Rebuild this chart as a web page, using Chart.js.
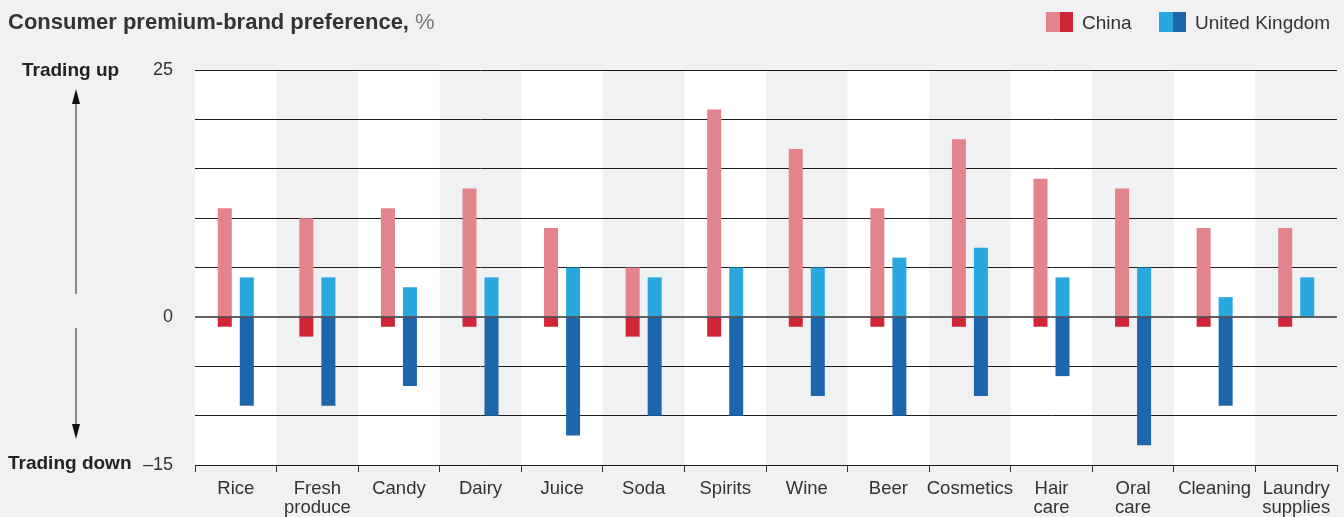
<!DOCTYPE html>
<html>
<head>
<meta charset="utf-8">
<script src="https://cdn.jsdelivr.net/npm/chart.js@4/dist/chart.umd.min.js"></script>
<style>
  html, body { margin: 0; padding: 0; background: #f0f1f3; }
  #wrap { position: relative; width: 1344px; height: 517px; }
</style>
</head>
<body>
<div id="wrap"><canvas id="c" width="1344" height="517"></canvas></div>
<script>
const categories = ['Rice', ['Fresh', 'produce'], 'Candy', 'Dairy', 'Juice', 'Soda', 'Spirits', 'Wine', 'Beer', 'Cosmetics', ['Hair', 'care'], ['Oral', 'care'], 'Cleaning', ['Laundry', 'supplies']];
const chinaUp   = [11, 10, 11, 13, 9, 5, 21, 17, 11, 18, 14, 13, 9, 9];
const chinaDown = [-1, -2, -1, -1, -1, -2, -2, -1, -1, -1, -1, -1, -1, -1];
const ukUp      = [4, 4, 3, 4, 5, 4, 5, 5, 6, 7, 4, 5, 2, 4];
const ukDown    = [-9, -9, -7, -10, -12, -10, -10, -8, -10, -8, -6, -13, -9, 0];
const yTickLabels = { 25: '25', 0: '0', '-15': '–15' };
const titleBold = 'Consumer premium-brand preference,';
const titleUnit = '%';
const seriesNames = ['China', 'United Kingdom'];
const axisNotes = ['Trading up', 'Trading down'];

const FONT = '"Liberation Sans", Arial, Helvetica, sans-serif';
const BG = '#f0f1f3';
const TEXT = '#333333';
const colors = { cnUp: '#e3838b', cnDown: '#d02638', ukUp: '#29a8e0', ukDown: '#1e66ac' };

const decor = {
  id: 'decor',
  beforeDraw(chart) {
    const { ctx, chartArea: a, scales: { x } } = chart;
    ctx.save();
    ctx.fillStyle = BG;
    ctx.fillRect(0, 0, chart.width, chart.height);
    const n = categories.length;
    const w = (a.right - a.left) / n;
    ctx.fillStyle = '#ffffff';
    for (let i = 0; i < n; i += 2) {
      const cx = x.getPixelForValue(i);
      ctx.fillRect(cx - w / 2, a.top, w, a.bottom - a.top);
    }
    ctx.restore();
  },
  afterDatasetsDraw(chart) {
    const { ctx, chartArea: a, scales: { y } } = chart;
    const y0 = y.getPixelForValue(0);
    ctx.save();
    ctx.strokeStyle = 'rgba(60,60,60,0.8)';
    ctx.lineWidth = 2;
    ctx.beginPath();
    ctx.moveTo(a.left, y0);
    ctx.lineTo(a.right, y0);
    ctx.stroke();
    ctx.restore();
  },
  afterDraw(chart) {
    const { ctx, scales: { y } } = chart;
    const ds = chart.data.datasets;
    ctx.save();
    // title
    ctx.textBaseline = 'alphabetic';
    ctx.textAlign = 'left';
    ctx.fillStyle = TEXT;
    ctx.font = 'bold 22px ' + FONT;
    ctx.fillText(titleBold, 8, 29);
    const tw = ctx.measureText(titleBold + ' ').width;
    ctx.font = '22px ' + FONT;
    ctx.fillStyle = '#777777';
    ctx.fillText(titleUnit, 8 + tw, 29);

    // legend
    const legend = [
      { x: 1046, light: ds[0].backgroundColor, dark: ds[1].backgroundColor, label: seriesNames[0] },
      { x: 1159, light: ds[2].backgroundColor, dark: ds[3].backgroundColor, label: seriesNames[1] }
    ];
    ctx.font = '19px ' + FONT;
    legend.forEach(l => {
      ctx.fillStyle = l.light;
      ctx.fillRect(l.x, 12, 14, 20);
      ctx.fillStyle = l.dark;
      ctx.fillRect(l.x + 14, 12, 13, 20);
      ctx.fillStyle = TEXT;
      ctx.fillText(l.label, l.x + 36, 29);
    });

    // side notes
    ctx.font = 'bold 19px ' + FONT;
    ctx.fillStyle = '#222222';
    ctx.fillText(axisNotes[0], 22, 76);
    ctx.fillText(axisNotes[1], 8, 469);

    // arrows
    const ax = 76;
    const yTop = y.getPixelForValue(25);
    const yZero = y.getPixelForValue(0);
    const yBot = y.getPixelForValue(-15);
    const upTip = yTop + 19, upEnd = yZero - 23;
    const dnStart = yZero + 11, dnTip = yBot - 26;
    ctx.strokeStyle = '#666666';
    ctx.lineWidth = 1.5;
    ctx.beginPath();
    ctx.moveTo(ax, upTip + 12); ctx.lineTo(ax, upEnd);
    ctx.moveTo(ax, dnStart); ctx.lineTo(ax, dnTip - 12);
    ctx.stroke();
    ctx.fillStyle = '#111111';
    ctx.beginPath();
    ctx.moveTo(ax, upTip); ctx.lineTo(ax - 4, upTip + 15); ctx.lineTo(ax + 4, upTip + 15); ctx.closePath();
    ctx.fill();
    ctx.beginPath();
    ctx.moveTo(ax, dnTip); ctx.lineTo(ax - 4, dnTip - 15); ctx.lineTo(ax + 4, dnTip - 15); ctx.closePath();
    ctx.fill();
    ctx.restore();
  }
};

const common = { categoryPercentage: 0.54, barPercentage: 0.636, borderWidth: 0 };

new Chart(document.getElementById('c'), {
  type: 'bar',
  data: {
    labels: categories,
    datasets: [
      { label: 'China up', data: chinaUp, stack: 'cn', backgroundColor: colors.cnUp, ...common },
      { label: 'China down', data: chinaDown, stack: 'cn', backgroundColor: colors.cnDown, ...common },
      { label: 'UK up', data: ukUp, stack: 'uk', backgroundColor: colors.ukUp, ...common },
      { label: 'UK down', data: ukDown, stack: 'uk', backgroundColor: colors.ukDown, ...common }
    ]
  },
  options: {
    responsive: false,
    animation: false,
    layout: { padding: { left: 0, right: 7, top: 70, bottom: 0 } },
    plugins: { legend: { display: false }, tooltip: { enabled: false }, title: { display: false } },
    scales: {
      x: {
        stacked: true,
        grid: { display: true, drawOnChartArea: false, drawTicks: true, tickLength: 7, color: '#333333', offset: true },
        border: { display: true, color: '#1e1e1e', width: 1 },
        ticks: {
          font: { family: FONT, size: 18.5, lineHeight: 1.05 },
          color: TEXT, padding: 7, maxRotation: 0, minRotation: 0, autoSkip: false
        },
        afterFit(s) { s.height = 52; }
      },
      y: {
        stacked: true,
        min: -15, max: 25,
        grid: {
          drawTicks: false,
          lineWidth: 1,
          color: c => (c.tick && c.tick.value === 0) ? 'rgba(0,0,0,0)' : '#1e1e1e'
        },
        border: { display: false },
        ticks: {
          stepSize: 5,
          padding: 22,
          font: { family: FONT, size: 18 },
          color: TEXT,
          callback: v => (yTickLabels[v] !== undefined ? yTickLabels[v] : '')
        },
        afterFit(s) { s.width = 195; }
      }
    }
  },
  plugins: [decor]
});
</script>
</body>
</html>
